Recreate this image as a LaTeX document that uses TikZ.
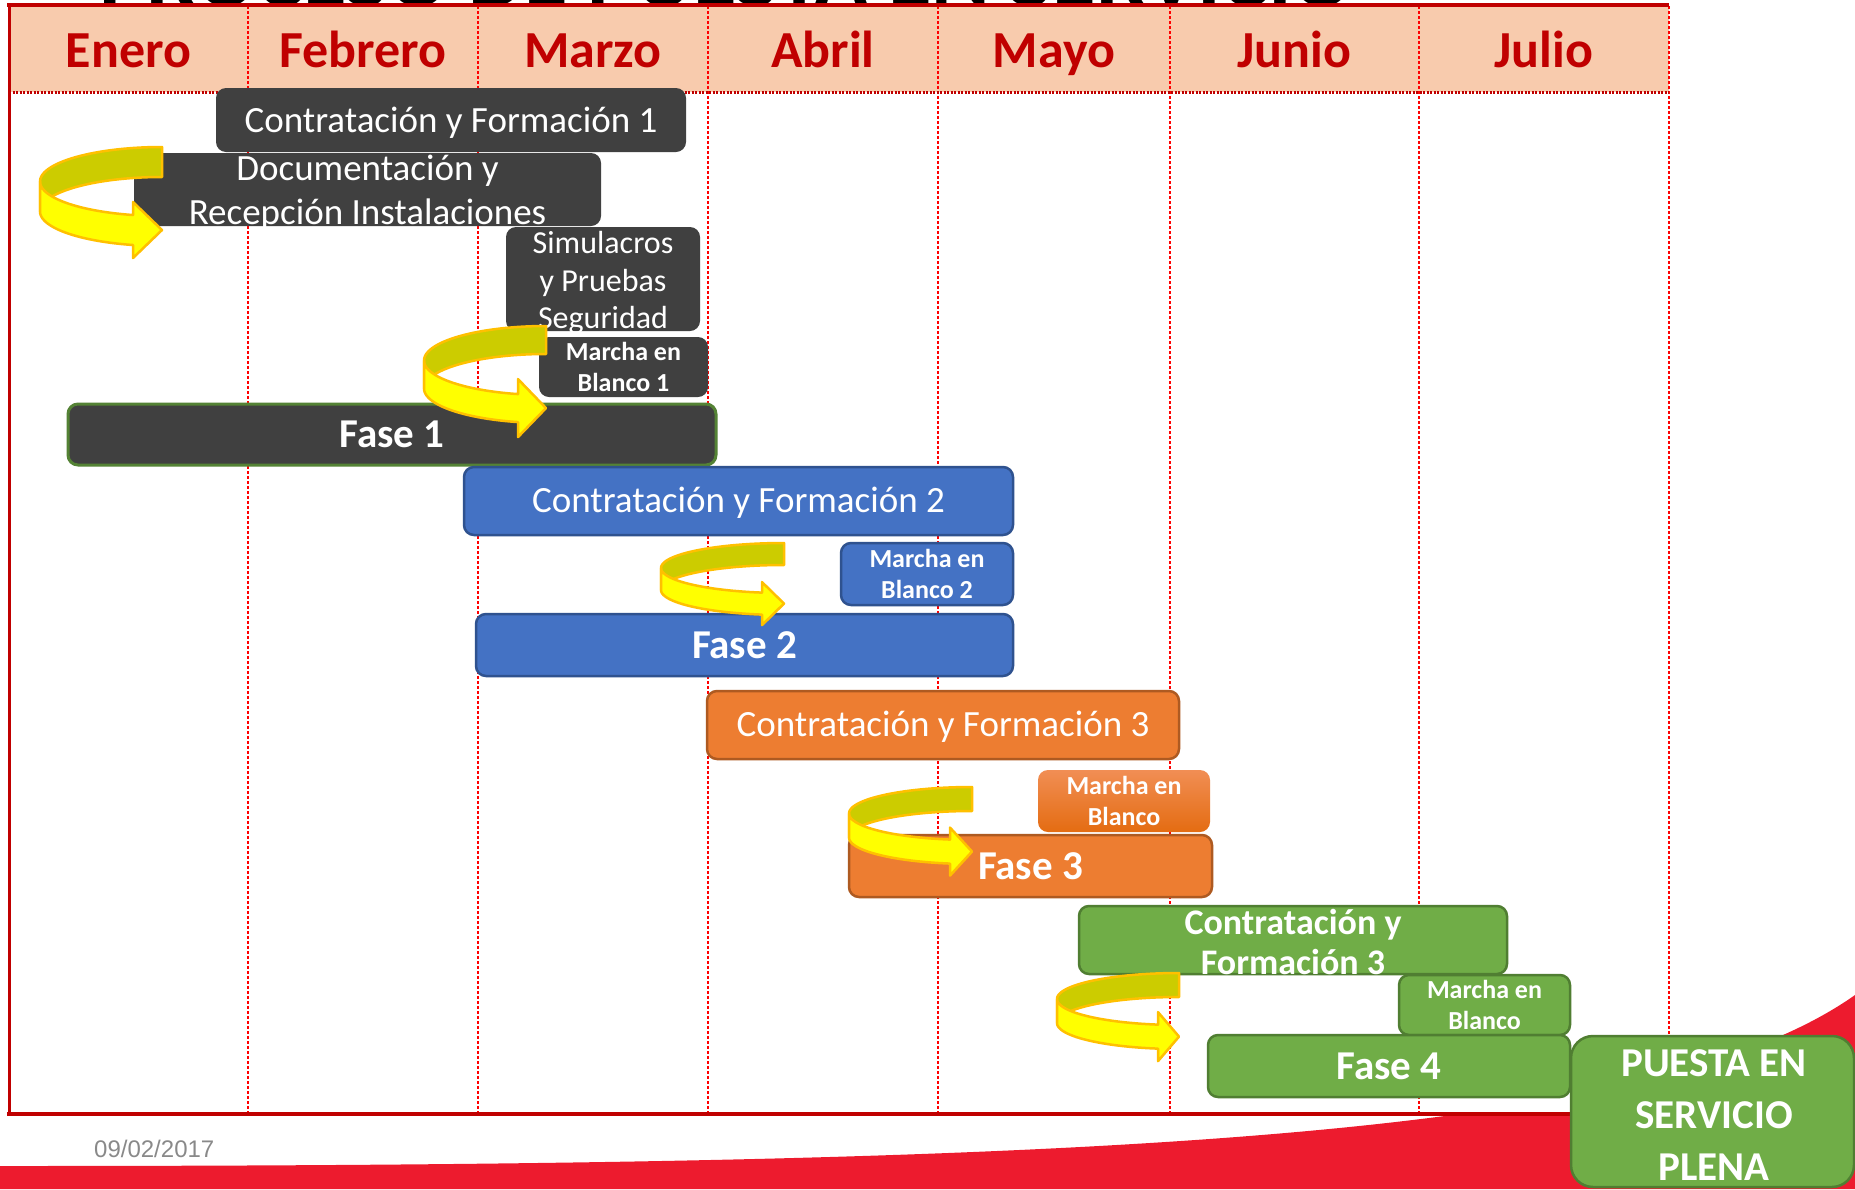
\documentclass[tikz,border=0pt]{standalone}
\usepackage{fontspec}
\setmainfont{Carlito}
\newfontfamily\arialf{Liberation Sans}
\definecolor{hdr}{RGB}{248,203,173}
\definecolor{dred}{RGB}{192,0,0}
\definecolor{lred}{RGB}{255,0,0}
\definecolor{dk}{RGB}{64,64,64}
\definecolor{bl}{RGB}{68,114,196}
\definecolor{bld}{RGB}{47,82,143}
\definecolor{orf}{RGB}{237,125,49}
\definecolor{ord}{RGB}{174,90,33}
\definecolor{ortop}{RGB}{241,142,84}
\definecolor{orbot}{RGB}{228,108,18}
\definecolor{gr}{RGB}{112,173,71}
\definecolor{grd}{RGB}{80,126,50}
\definecolor{fgreen}{RGB}{84,130,53}
\definecolor{olivey}{RGB}{204,204,0}
\definecolor{yel}{RGB}{255,255,0}
\definecolor{aro}{RGB}{255,192,0}
\definecolor{swoosh}{RGB}{237,27,46}
\definecolor{dategray}{RGB}{137,137,137}
\tikzset{
  bx/.style={rounded corners=10pt, inner sep=0pt, line width=2.5pt},
  darkb/.style={bx, fill=dk},
  blueb/.style={bx, fill=bl, draw=bld},
  orb/.style={bx, fill=orf, draw=ord},
  grb/.style={bx, fill=gr, draw=grd},
  wt/.style={text=white, align=center, inner sep=0pt},
  regt/.style={wt, font=\fontsize{37}{44}\selectfont},
  mbt/.style={wt, font=\bfseries\fontsize{26}{31}\selectfont},
  faset/.style={wt, font=\bfseries\fontsize{41}{48}\selectfont},
  month/.style={anchor=base, inner sep=0pt, text=dred, font=\bfseries\fontsize{52}{60}\selectfont},
  arrowline/.style={draw=aro, line width=2.5pt, line join=round},
  divider/.style={draw=lred, line width=2.5pt, dash pattern=on 2.5pt off 2.5pt},
}
\newcommand\yarrow[7]{% xr, yt, a, b, t, hh, hl
  \pgfmathsetmacro\te{180+acos(#7/#3)}
  \pgfmathsetmacro\ym{#2+#4-#4*sin(\te)+#5/2}
  \draw[arrowline, fill=olivey] plot[domain=90:180,samples=40] ({#1+#3*cos(\x)},{#2+#4-#4*sin(\x)})
     -- plot[domain=180:90,samples=40] ({#1+#3*cos(\x)},{#2+#5+#4-#4*sin(\x)}) -- cycle;
  \draw[arrowline, fill=yel] plot[domain=180:\te,samples=40] ({#1+#3*cos(\x)},{#2+#4-#4*sin(\x)})
     -- ({#1-#7},{\ym-#6}) -- ({#1},{\ym}) -- ({#1-#7},{\ym+#6})
     -- plot[domain=\te:180,samples=40] ({#1+#3*cos(\x)},{#2+#5+#4-#4*sin(\x)}) -- cycle;
}
\begin{document}
\begin{tikzpicture}[x=1pt,y=-1pt]
\useasboundingbox (0,0) rectangle (1855,1189);
% bottom red swoosh
\fill[swoosh] (0,1166) .. controls (1100,1166) and (1650,1140) .. (1855,995) -- (1855,1189) -- (0,1189) -- cycle;
% title (mostly above the page)
\node[anchor=base, inner sep=0pt, font=\bfseries\fontsize{89}{100}\selectfont] (title) at (726,6) {PROCESO DE PUESTA EN SERVICIO};
% table
\fill[white] (9,5) rectangle (1669,1114);
\fill[hdr] (9,5) rectangle (1669,92);
\foreach \xx in {248,478,708,938,1170,1419,1669} \draw[divider] (\xx,6) -- (\xx,1113);
\draw[draw=dred, line width=3pt, dash pattern=on 2pt off 1.5pt] (9,92) -- (1669,92);
\draw[dred, line width=3pt] (9,5) -- (9,1114);
\draw[dred, line width=4pt] (7,5) -- (1669,5);
\draw[dred, line width=4pt] (7,1114) -- (1669,1114);
% months
\node[month] (m1) at (128.5,67) {Enero};
\node[month] (m2) at (363,67) {Febrero};
\node[month] (m3) at (593,67) {Marzo};
\node[month] (m4) at (823,67) {Abril};
\node[month] (m5) at (1054,67) {Mayo};
\node[month] (m6) at (1294.5,67) {Junio};
\node[month] (m7) at (1544,67) {Julio};
% phase 1
\node[darkb, minimum width=470, minimum height=64] (c1) at (451,120) {};
\node[regt] (c1t) at (451,123) {Contratación y Formación 1};
\node[darkb, minimum width=467, minimum height=73] (doc) at (367.5,189.5) {};
\node[regt] (doct) at (367.5,193) {Documentación y\\Recepción Instalaciones};
\node[darkb, minimum width=194, minimum height=104] (sim) at (603,279) {};
\node[wt, font=\fontsize{32}{37.5}\selectfont] (simt) at (603,283) {Simulacros\\y Pruebas\\Seguridad};
\node[darkb, minimum width=169, minimum height=60] (mb1) at (623.5,367) {};
\node[mbt] (mb1t) at (mb1) {Marcha en\\Blanco 1};
\node[darkb, draw=fgreen, line width=3pt, minimum width=648, minimum height=61] (f1) at (392,434.5) {};
\node[faset] (f1t) at (f1) {Fase 1};
% phase 2
\node[blueb, minimum width=549, minimum height=68] (c2) at (738.5,501) {};
\node[regt] (c2t) at (738.5,503) {Contratación y Formación 2};
\node[blueb, minimum width=172, minimum height=62] (mb2) at (927,574) {};
\node[mbt] (mb2t) at (mb2) {Marcha en\\Blanco 2};
\node[blueb, minimum width=537, minimum height=62] (f2) at (744.5,645) {};
\node[faset] (f2t) at (f2) {Fase 2};
% phase 3
\node[orb, minimum width=472, minimum height=68] (c3) at (943,725) {};
\node[regt] (c3t) at (943,727) {Contratación y Formación 3};
\node[bx, top color=ortop, bottom color=orbot, minimum width=172, minimum height=62] (mb3) at (1124,801) {};
\node[mbt] (mb3t) at (mb3) {Marcha en\\Blanco};
\node[orb, minimum width=363, minimum height=62] (f3) at (1030.5,866) {};
\node[faset] (f3t) at (f3) {Fase 3};
% phase 4
\node[grb, minimum width=428, minimum height=68] (c4) at (1293,940) {};
\node[wt, font=\bfseries\fontsize{36}{40}\selectfont] (c4t) at (1293,942) {Contratación y\\Formación 3};
\node[grb, minimum width=171, minimum height=60] (mb4) at (1484.5,1005) {};
\node[mbt] (mb4t) at (mb4) {Marcha en\\Blanco};
\node[grb, minimum width=362, minimum height=62] (f4) at (1389,1066) {};
\node[faset] (f4t) at (f4) {Fase 4};
\node[grb, rounded corners=22pt, minimum width=283, minimum height=151] (pse) at (1712.5,1111.5) {};
\node[wt, font=\bfseries\fontsize{41}{52}\selectfont] (pset) at (1714,1115) {PUESTA EN\\SERVICIO\\PLENA};
% curved arrows
\yarrow{162}{147}{122}{34.5}{30}{28}{29}
\yarrow{546}{326}{122}{34.5}{28}{29}{28}
\yarrow{784}{543}{123}{25}{22}{21.5}{22}
\yarrow{972}{787}{123}{26.5}{24}{24}{22}
\yarrow{1179}{973}{122}{26}{24}{24.5}{21}
% date
\node[anchor=base west, inner sep=0pt, text=dategray, font=\arialf\fontsize{24}{28}\selectfont] (date) at (94,1157) {09/02/2017};
\end{tikzpicture}
\end{document}
